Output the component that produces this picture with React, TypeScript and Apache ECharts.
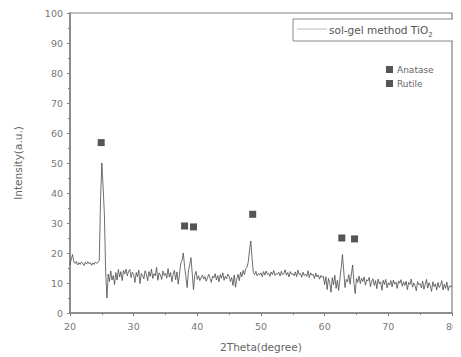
import React, { useEffect, useRef } from "react";
import * as echarts from "echarts";

const startAngle = 20;
const stepAngle = 0.2;
const intensity: number[] = [
  16, 18, 19.5, 17, 16.5, 17.2, 16, 16.8, 16.2, 17, 16.5, 15.8, 16.9, 16.3, 17.1, 16.4, 16.8, 15.9, 16.7, 16.2, 17, 16.5, 16.9, 17.5, 38,
  50, 42, 33, 14, 5, 13, 10.5, 14, 11, 12.5, 9.5, 13.5, 11, 14.5, 12, 13.8, 10.8, 14.2, 13, 14.6, 12.4, 13.9, 14.5, 11.8, 13.6,
  12.8, 10.2, 13.5, 12.1, 14.3, 9.8, 13.2, 12.6, 11.4, 14.1, 12.9, 10.7, 13.8, 12.2, 14.6, 11.5, 13.1, 12.4, 15.2, 10.9, 13.4, 12.7, 11.2, 14, 12.5,
  13.3, 11.6, 14.8, 12, 13.5, 10.4, 12.9, 14.2, 11.1, 13.7, 9.6, 13, 16.5, 17.5, 20, 15.5, 12.2, 8.5, 14, 16, 18.5, 13.2, 7.8, 12.6, 13.9,
  11.2, 12.4, 10.8, 11.9, 12.6, 11.3, 12.1, 10.6, 11.8, 12.9, 11.5, 10.2, 12.3, 11.7, 13.1, 11, 12.5, 10.4, 12.8, 11.6, 13.4, 10.9, 12.2, 11.4, 13,
  12.3, 10.5, 11.8, 9.2, 12.7, 8.6, 11.4, 12.9, 10.8, 13.6, 12.1, 14.2, 12.8, 14.8, 15.2, 17, 21, 24, 18, 13.5, 12.8, 13.9, 12.4, 13.2, 12.7,
  13.4, 12.1, 13.8, 12.6, 14, 12.9, 13.3, 12.2, 13.7, 12.8, 14.2, 12.5, 13.1, 12.9, 13.6, 12.3, 13.9, 12.7, 13.2, 14.4, 12.6, 13.5, 12, 13.8, 12.9,
  13.1, 12.4, 13.7, 12.1, 14.3, 12.8, 13.2, 11.9, 13.6, 12.5, 13, 12.2, 14.1, 11.8, 13.4, 12.6, 12.9, 11.5, 13.3, 12, 12.7, 11.3, 12.5, 11.9, 12.2,
  9.5, 12.1, 7.8, 11.5, 10.2, 6.9, 11.8, 9.4, 12.6, 8.2, 10.9, 7.5, 11.3, 15, 19.5, 14, 8.5, 11.2, 10.4, 12.8, 9.6, 13, 16, 10, 6.5,
  11.5, 10.2, 12.3, 9.8, 11.6, 10.5, 12, 9.3, 11.1, 10.7, 11.9, 8.8, 10.6, 11.4, 9.2, 10.8, 8.1, 11.3, 9.7, 10.4, 7.6, 10.9, 9.5, 11.2, 8.4,
  10.1, 9.3, 10.8, 8.7, 11, 9.6, 10.3, 8.2, 10.7, 9.9, 11.1, 8.9, 10.4, 9.2, 10.6, 7.8, 10.2, 9.5, 11.3, 8.6, 10, 9.1, 7.4, 10.5, 9.4,
  9.8, 8.4, 10.6, 7.9, 9.5, 11.2, 8.3, 10.1, 9, 7.2, 10.4, 8.8, 9.7, 7.6, 10.2, 8.5, 9.3, 10.8, 7.7, 9.6, 8.2, 10.3, 7.5, 9.1, 8.6,
  9.2,
];

const anataseX = [24.9, 38.0, 48.7, 62.7];
const anataseY = [56.8, 29.0, 32.9, 25.0];
const rutileX = [39.4, 64.7];
const rutileY = [28.7, 24.7];

const xTicks = [20, 30, 40, 50, 60, 70, 80];
const yTicks = [0, 10, 20, 30, 40, 50, 60, 70, 80, 90, 100];

const seriesName = "sol-gel method TiO2";

export default function App() {
  const ref = useRef<HTMLDivElement>(null);
  useEffect(() => {
    if (!ref.current) return;
    const chart = echarts.init(ref.current, undefined, { renderer: "svg" });
    const lineData = intensity.map((v, i) => [+(startAngle + i * stepAngle).toFixed(2), v]);
    const font = "DejaVu Sans, Verdana, sans-serif";
    const axisColor = "#808080";
    chart.setOption({
      animation: false,
      backgroundColor: "#ffffff",
      grid: { left: 70, right: 4, top: 13, bottom: 43, show: true, borderColor: axisColor, borderWidth: 1.2 },
      legend: {
        data: ["Anatase", "Rutile"],
        orient: "vertical",
        left: 381,
        top: 60,
        itemWidth: 7,
        itemHeight: 7,
        itemGap: 5,
        icon: "rect",
        textStyle: { fontFamily: font, fontSize: 9, color: "#666", padding: [0, 0, 0, -1] },
      },
      xAxis: {
        type: "value",
        min: xTicks[0],
        max: xTicks[xTicks.length - 1],
        interval: 10,
        name: "2Theta(degree)",
        nameLocation: "middle",
        nameGap: 28,
        nameTextStyle: { fontFamily: font, fontSize: 10.5, color: "#666" },
        axisLine: { show: true, lineStyle: { color: axisColor, width: 1.5 } },
        axisTick: { show: true, inside: false, length: 3, lineStyle: { color: axisColor } },
        minorTick: { show: true, splitNumber: 2, length: 2, lineStyle: { color: axisColor } },
        axisLabel: { fontFamily: font, fontSize: 9.5, color: "#777", margin: 8 },
        splitLine: { show: false },
      },
      yAxis: {
        type: "value",
        min: yTicks[0],
        max: yTicks[yTicks.length - 1],
        interval: 10,
        name: "Intensity(a.u.)",
        nameLocation: "middle",
        nameGap: 47,
        nameRotate: 90,
        nameTextStyle: { fontFamily: font, fontSize: 10.5, color: "#666" },
        axisLine: { show: true, lineStyle: { color: axisColor, width: 1.5 } },
        axisTick: { show: true, inside: false, length: 3, lineStyle: { color: axisColor } },
        minorTick: { show: true, splitNumber: 2, length: 2, lineStyle: { color: axisColor } },
        axisLabel: { fontFamily: font, fontSize: 9.5, color: "#777", margin: 7 },
        splitLine: { show: false },
      },
      series: [
        {
          name: seriesName,
          type: "line",
          data: lineData,
          showSymbol: false,
          symbol: "none",
          lineStyle: { color: "#4a4a4a", width: 0.8 },
        },
        {
          name: "Anatase",
          type: "scatter",
          data: anataseX.map((x, i) => [x, anataseY[i]]),
          symbol: "rect",
          symbolSize: 7,
          itemStyle: { color: "#2a2a2a" },
        },
        {
          name: "Rutile",
          type: "scatter",
          data: rutileX.map((x, i) => [x, rutileY[i]]),
          symbol: "rect",
          symbolSize: 7,
          itemStyle: { color: "#2a2a2a" },
        },
      ],
      graphic: [
        {
          type: "rect",
          shape: { x: 293, y: 19, width: 162, height: 22 },
          style: { fill: "#fff", stroke: "#888", lineWidth: 1 },
        },
        {
          type: "line",
          shape: { x1: 297, y1: 29, x2: 327, y2: 29 },
          style: { stroke: "#bbb", lineWidth: 1 },
        },
        {
          type: "text",
          x: 329,
          y: 22,
          style: {
            text: "{m|sol-gel method TiO}{s|2}",
            rich: {
              m: { fontFamily: font, fontSize: 10.5, fill: "#555" },
              s: { fontFamily: font, fontSize: 7, fill: "#555", padding: [9, 0, 0, 0] },
            },
          },
        },
      ],
    });
    return () => chart.dispose();
  }, []);
  return <div ref={ref} style={{ width: 461, height: 357, marginLeft: -8, marginTop: -8 }} />;
}
